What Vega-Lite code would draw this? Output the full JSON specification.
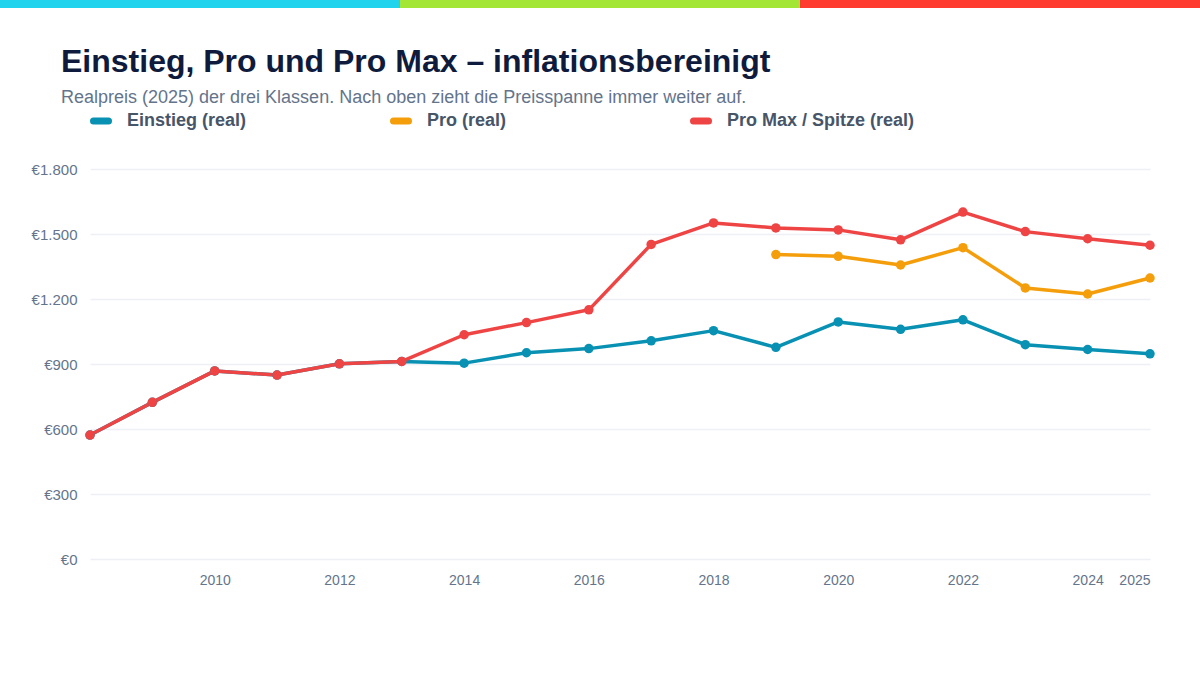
{
  "$schema": "https://vega.github.io/schema/vega-lite/v6.json",
  "background": "white",
  "padding": {"left": 0, "top": 0, "right": -40, "bottom": 0},
  "spacing": 161,
  "center": true,
  "bounds": "flush",
  "resolve": {"scale": {"color": "independent", "x": "independent", "y": "independent"}, "legend": {"color": "independent"}},
  "vconcat": [
    {
      "width": 1240,
      "height": 8,
      "data": {
        "values": [
          {"seg": "a", "start": 0, "end": 1},
          {"seg": "b", "start": 1, "end": 2},
          {"seg": "c", "start": 2, "end": 3.1}
        ]
      },
      "mark": "rect",
      "encoding": {
        "x": {"field": "start", "type": "quantitative", "axis": null, "scale": {"domain": [0, 3.1], "nice": false}},
        "x2": {"field": "end"},
        "color": {
          "field": "seg",
          "type": "nominal",
          "legend": null,
          "scale": {"domain": ["a", "b", "c"], "range": ["#22d3ee", "#a3e635", "#ff3b30"]}
        }
      }
    },
    {
      "width": 1060,
      "height": 390,
      "title": {
        "text": "Einstieg, Pro und Pro Max – inflationsbereinigt",
        "subtitle": "Realpreis (2025) der drei Klassen. Nach oben zieht die Preisspanne immer weiter auf.",
        "anchor": "start",
        "frame": "group",
        "dx": -29,
        "fontSize": 32,
        "fontWeight": "bold",
        "color": "#0f1b3d",
        "subtitleFontSize": 18,
        "subtitleColor": "#64748b",
        "subtitlePadding": 10,
        "offset": 2
      },
      "data": {
        "values": [
          {"year": 2008, "klasse": "Einstieg (real)", "preis": 572},
          {"year": 2009, "klasse": "Einstieg (real)", "preis": 723},
          {"year": 2010, "klasse": "Einstieg (real)", "preis": 868},
          {"year": 2011, "klasse": "Einstieg (real)", "preis": 849},
          {"year": 2012, "klasse": "Einstieg (real)", "preis": 901},
          {"year": 2013, "klasse": "Einstieg (real)", "preis": 912},
          {"year": 2014, "klasse": "Einstieg (real)", "preis": 904},
          {"year": 2015, "klasse": "Einstieg (real)", "preis": 952},
          {"year": 2016, "klasse": "Einstieg (real)", "preis": 971},
          {"year": 2017, "klasse": "Einstieg (real)", "preis": 1007},
          {"year": 2018, "klasse": "Einstieg (real)", "preis": 1054},
          {"year": 2019, "klasse": "Einstieg (real)", "preis": 977},
          {"year": 2020, "klasse": "Einstieg (real)", "preis": 1094},
          {"year": 2021, "klasse": "Einstieg (real)", "preis": 1060},
          {"year": 2022, "klasse": "Einstieg (real)", "preis": 1104},
          {"year": 2023, "klasse": "Einstieg (real)", "preis": 989},
          {"year": 2024, "klasse": "Einstieg (real)", "preis": 967},
          {"year": 2025, "klasse": "Einstieg (real)", "preis": 947},
          {"year": 2019, "klasse": "Pro (real)", "preis": 1405},
          {"year": 2020, "klasse": "Pro (real)", "preis": 1397},
          {"year": 2021, "klasse": "Pro (real)", "preis": 1357},
          {"year": 2022, "klasse": "Pro (real)", "preis": 1437},
          {"year": 2023, "klasse": "Pro (real)", "preis": 1251},
          {"year": 2024, "klasse": "Pro (real)", "preis": 1223},
          {"year": 2025, "klasse": "Pro (real)", "preis": 1297},
          {"year": 2008, "klasse": "Pro Max / Spitze (real)", "preis": 572},
          {"year": 2009, "klasse": "Pro Max / Spitze (real)", "preis": 723},
          {"year": 2010, "klasse": "Pro Max / Spitze (real)", "preis": 868},
          {"year": 2011, "klasse": "Pro Max / Spitze (real)", "preis": 849},
          {"year": 2012, "klasse": "Pro Max / Spitze (real)", "preis": 901},
          {"year": 2013, "klasse": "Pro Max / Spitze (real)", "preis": 912},
          {"year": 2014, "klasse": "Pro Max / Spitze (real)", "preis": 1035},
          {"year": 2015, "klasse": "Pro Max / Spitze (real)", "preis": 1091},
          {"year": 2016, "klasse": "Pro Max / Spitze (real)", "preis": 1150},
          {"year": 2017, "klasse": "Pro Max / Spitze (real)", "preis": 1452},
          {"year": 2018, "klasse": "Pro Max / Spitze (real)", "preis": 1551},
          {"year": 2019, "klasse": "Pro Max / Spitze (real)", "preis": 1528},
          {"year": 2020, "klasse": "Pro Max / Spitze (real)", "preis": 1519},
          {"year": 2021, "klasse": "Pro Max / Spitze (real)", "preis": 1473},
          {"year": 2022, "klasse": "Pro Max / Spitze (real)", "preis": 1601},
          {"year": 2023, "klasse": "Pro Max / Spitze (real)", "preis": 1511},
          {"year": 2024, "klasse": "Pro Max / Spitze (real)", "preis": 1478},
          {"year": 2025, "klasse": "Pro Max / Spitze (real)", "preis": 1448}
        ]
      },
      "encoding": {
        "x": {
          "field": "year",
          "type": "quantitative",
          "title": null,
          "scale": {"domain": [2008, 2025], "nice": false, "zero": false},
          "axis": {
            "values": [2010, 2012, 2014, 2016, 2018, 2020, 2022, 2024, 2025],
            "format": "d",
            "grid": false,
            "domain": false,
            "ticks": false,
            "labelPadding": 14,
            "labelFontSize": 14,
            "labelColor": "#64748b",
            "labelFont": "Liberation Sans"
          }
        },
        "y": {
          "field": "preis",
          "type": "quantitative",
          "title": null,
          "scale": {"domain": [0, 1800], "nice": false},
          "axis": {
            "values": [0, 300, 600, 900, 1200, 1500, 1800],
            "labelExpr": "'€' + replace(format(datum.value, ','), ',', '.')",
            "domain": false,
            "ticks": false,
            "gridColor": "#edf0f5",
            "gridWidth": 1.5,
            "labelPadding": 13,
            "labelFontSize": 15,
            "labelColor": "#64748b",
            "labelFont": "Liberation Sans"
          }
        },
        "color": {
          "field": "klasse",
          "type": "nominal",
          "title": null,
          "scale": {
            "domain": ["Einstieg (real)", "Pro (real)", "Pro Max / Spitze (real)"],
            "range": ["#0891b2", "#f59e0b", "#ef4444"]
          },
          "legend": {
            "orient": "top",
            "direction": "horizontal",
            "columns": 3,
            "gridAlign": "all",
            "columnPadding": 64,
            "symbolType": "stroke",
            "symbolSize": 225,
            "symbolStrokeWidth": 7,
            "labelFontSize": 18,
            "labelFontWeight": "bold",
            "labelColor": "#475569",
            "labelFont": "Liberation Sans",
            "labelOffset": 15,
            "labelLimit": 400,
            "offset": 34,
            "padding": 0,
            "encode": {"symbols": {"update": {"strokeCap": {"value": "round"}}}}
          }
        }
      },
      "layer": [
        {"mark": {"type": "line", "strokeWidth": 3.5, "strokeCap": "round", "strokeJoin": "round"}},
        {"mark": {"type": "point", "filled": true, "opacity": 1, "size": 90}}
      ]
    }
  ],
  "config": {
    "font": "Liberation Sans",
    "view": {"stroke": null},
    "title": {"font": "Liberation Sans", "subtitleFont": "Liberation Sans"}
  }
}
